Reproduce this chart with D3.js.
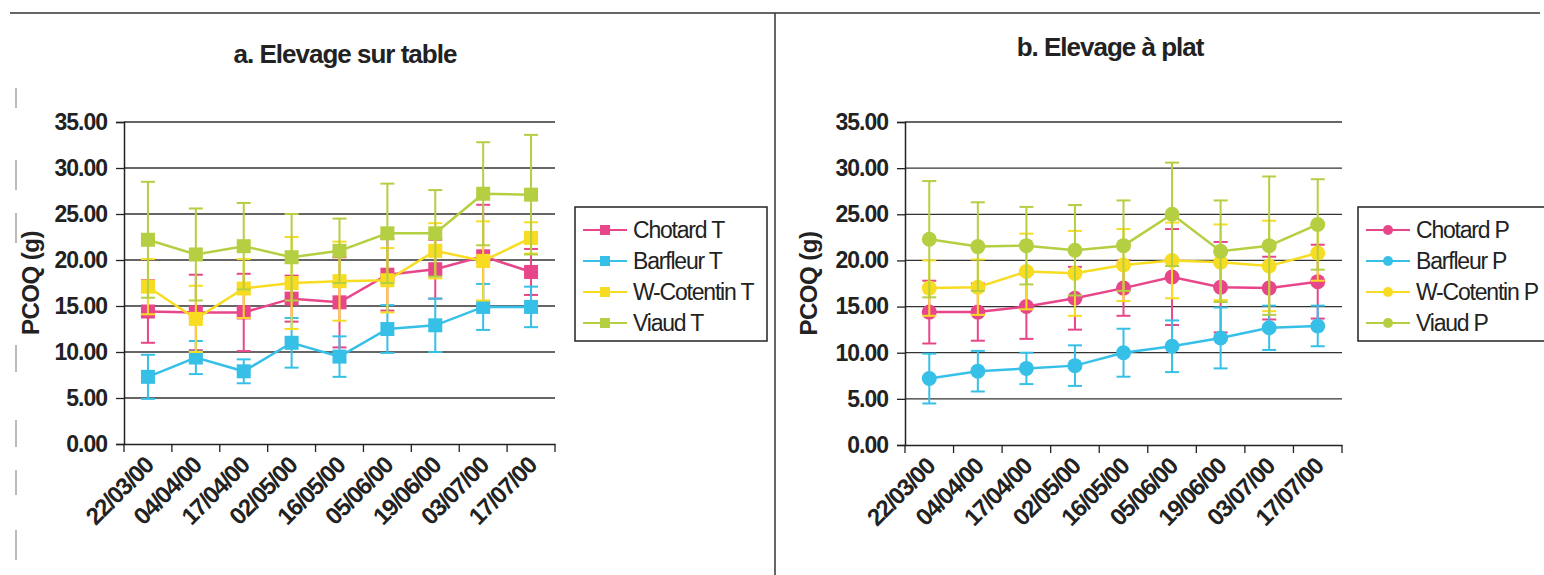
<!DOCTYPE html>
<html>
<head>
<meta charset="utf-8">
<script src="https://cdn.jsdelivr.net/npm/d3@7"></script>
<style>
  body { margin: 0; background: #fff; }
  svg { display: block; font-family: "Liberation Sans", Arial, sans-serif; }
</style>
</head>
<body>
<div id="canvas"></div>
<script>
'use strict';

var dates = ['22/03/00', '04/04/00', '17/04/00', '02/05/00', '16/05/00', '05/06/00', '19/06/00', '03/07/00', '17/07/00'];
var yTicks = [0, 5, 10, 15, 20, 25, 30, 35];

// a. Elevage sur table
var chotardT = [14.4, 14.3, 14.3, 15.8, 15.4, 18.4, 19.0, 20.4, 18.7];
var chotardTErr = [3.4, 4.1, 4.2, 2.5, 4.9, 3.9, 3.2, 5.6, 2.5];
var barfleurT = [7.3, 9.4, 7.9, 11.0, 9.5, 12.5, 12.9, 14.9, 14.9];
var barfleurTErr = [2.4, 1.8, 1.3, 2.7, 2.2, 2.6, 2.9, 2.5, 2.2];
var cotentinT = [17.1, 13.6, 16.9, 17.5, 17.7, 17.8, 21.0, 19.9, 22.4];
var cotentinTErr = [3.0, 3.6, 3.2, 5.0, 4.3, 3.5, 3.0, 4.3, 1.7];
var viaudT = [22.2, 20.6, 21.5, 20.3, 21.0, 22.9, 22.9, 27.2, 27.1];
var viaudTErr = [6.3, 5.0, 4.7, 4.7, 3.5, 5.4, 4.7, 5.6, 6.5];

// b. Elevage a plat
var chotardP = [14.4, 14.4, 15.0, 15.9, 17.0, 18.2, 17.1, 17.0, 17.7];
var chotardPErr = [3.4, 3.1, 3.5, 3.4, 3.0, 5.2, 4.9, 3.4, 4.0];
var barfleurP = [7.2, 8.0, 8.3, 8.6, 10.0, 10.7, 11.6, 12.7, 12.9];
var barfleurPErr = [2.7, 2.2, 1.7, 2.2, 2.6, 2.8, 3.3, 2.4, 2.2];
var cotentinP = [17.0, 17.1, 18.8, 18.6, 19.5, 20.0, 19.8, 19.4, 20.8];
var cotentinPErr = [3.0, 3.0, 4.1, 4.6, 3.9, 4.1, 4.1, 4.9, 3.0];
var viaudP = [22.3, 21.5, 21.6, 21.1, 21.6, 25.0, 21.0, 21.6, 23.9];
var viaudPErr = [6.3, 4.8, 4.2, 4.9, 4.9, 5.6, 5.5, 7.5, 4.9];

var colors = ['#e8468a', '#36c0e8', '#f8dc22', '#b4cf42'];

var width = 1544;
var height = 575;

var svg = d3.select('#canvas')
            .append('svg')
            .attr('width', width)
            .attr('height', height);

// page frame lines (scan)
svg.append('line').attr('x1', 10).attr('x2', 1540).attr('y1', 13).attr('y2', 13)
   .style('stroke', '#333').style('stroke-width', 1.5);
svg.append('line').attr('x1', 775).attr('x2', 775).attr('y1', 13).attr('y2', 575)
   .style('stroke', '#333').style('stroke-width', 1.5);

// faint marks at the left margin
[[88, 108], [160, 190], [213, 243], [345, 372], [420, 447], [470, 495], [530, 560]].forEach(function(r){
    svg.append('line').attr('x1', 16).attr('x2', 16).attr('y1', r[0]).attr('y2', r[1])
       .style('stroke', '#bbb').style('stroke-width', 2);
});

function drawChart(opts){
    var g = svg.append('g');

    var x = d3.scaleBand().domain(dates).range([opts.left, opts.right]);
    var y = d3.scaleLinear().domain([0, 35]).range([opts.bottom, opts.top]);

    // title
    g.append('text')
        .attr('x', opts.titleX)
        .attr('y', opts.titleY)
        .attr('text-anchor', 'middle')
        .style('font-size', '26px')
        .style('font-weight', 'bold')
        .style('letter-spacing', '-1px')
        .style('fill', '#222')
        .text(opts.title);

    // gridlines
    g.selectAll('line.grid')
        .data(yTicks.slice(1))
        .enter()
        .append('line')
        .attr('class', 'grid')
        .attr('x1', opts.left)
        .attr('x2', opts.right)
        .attr('y1', function(d){ return y(d); })
        .attr('y2', function(d){ return y(d); })
        .style('stroke', '#333')
        .style('stroke-width', 1.3);

    // y axis
    var yAxis = g.append('g')
        .attr('transform', 'translate(' + opts.left + ',0)')
        .call(d3.axisLeft(y).tickValues(yTicks).tickFormat(d3.format('.2f')).tickSize(8).tickPadding(9));
    yAxis.select('.domain').style('stroke', '#222').style('stroke-width', 1.5);
    yAxis.selectAll('line').style('stroke', '#222').style('stroke-width', 1.3);
    yAxis.selectAll('text')
        .style('font-size', '23px')
        .style('font-weight', 'bold')
        .style('letter-spacing', '-1px')
        .style('fill', '#222')
        .attr('font-family', null);

    // x axis
    var xAxis = g.append('g')
        .attr('transform', 'translate(0,' + opts.bottom + ')')
        .call(d3.axisBottom(x).tickSize(0).tickFormat(''));
    xAxis.select('.domain').style('stroke', '#222').style('stroke-width', 1.5);

    // x tick marks at band edges
    var edges = dates.map(function(d){ return x(d); }).concat([opts.right]);
    g.selectAll('line.xtick')
        .data(edges)
        .enter()
        .append('line')
        .attr('class', 'xtick')
        .attr('x1', function(d){ return d; })
        .attr('x2', function(d){ return d; })
        .attr('y1', opts.bottom)
        .attr('y2', opts.bottom + 8)
        .style('stroke', '#222')
        .style('stroke-width', 1.3);

    // x labels
    g.selectAll('text.xlab')
        .data(dates)
        .enter()
        .append('text')
        .attr('class', 'xlab')
        .attr('text-anchor', 'end')
        .attr('transform', function(d){
            return 'translate(' + (x(d) + x.bandwidth() / 2 + 7) + ',' + (opts.bottom + 23) + ') rotate(-45)';
        })
        .style('font-size', '24px')
        .style('font-weight', 'bold')
        .style('letter-spacing', '-1.2px')
        .style('fill', '#222')
        .text(function(d){ return d; });

    // y label
    g.append('text')
        .attr('transform', 'translate(' + opts.yLabelX + ',' + ((opts.top + opts.bottom) / 2) + ') rotate(-90)')
        .attr('text-anchor', 'middle')
        .style('font-size', '24px')
        .style('font-weight', 'bold')
        .style('letter-spacing', '-0.5px')
        .style('fill', '#222')
        .text('PCOQ (g)');

    var cx = function(i){ return x(dates[i]) + x.bandwidth() / 2; };
    var line = d3.line()
        .x(function(d, i){ return cx(i); })
        .y(function(d){ return y(d); });

    opts.series.forEach(function(s, k){
        var color = colors[k];
        var sg = g.append('g');

        // error bars
        s.values.forEach(function(v, i){
            var e = s.err[i];
            sg.append('line')
                .attr('x1', cx(i)).attr('x2', cx(i))
                .attr('y1', y(v - e)).attr('y2', y(v + e))
                .style('stroke', color).style('stroke-width', 2);
            [v - e, v + e].forEach(function(c){
                sg.append('line')
                    .attr('x1', cx(i) - 7).attr('x2', cx(i) + 7)
                    .attr('y1', y(c)).attr('y2', y(c))
                    .style('stroke', color).style('stroke-width', 2);
            });
        });

        sg.append('path')
            .datum(s.values)
            .attr('d', line)
            .attr('fill', 'none')
            .style('stroke', color)
            .style('stroke-width', 2.5);

        if(opts.marker === 'square'){
            sg.selectAll('rect.pt')
                .data(s.values)
                .enter()
                .append('rect')
                .attr('class', 'pt')
                .attr('x', function(d, i){ return cx(i) - 7; })
                .attr('y', function(d){ return y(d) - 7; })
                .attr('width', 14)
                .attr('height', 14)
                .style('fill', color);
        }else{
            sg.selectAll('circle.pt')
                .data(s.values)
                .enter()
                .append('circle')
                .attr('class', 'pt')
                .attr('cx', function(d, i){ return cx(i); })
                .attr('cy', function(d){ return y(d); })
                .attr('r', 7.5)
                .style('fill', color);
        }
    });

    // legend
    var lg = g.append('g');
    lg.append('rect')
        .attr('x', opts.legendX)
        .attr('y', 207)
        .attr('width', opts.legendW)
        .attr('height', 134)
        .style('fill', '#fff')
        .style('stroke', '#222')
        .style('stroke-width', 1.5);

    opts.series.forEach(function(s, k){
        var ly = 230 + k * 31;
        var lx = opts.legendX + 8;
        lg.append('line')
            .attr('x1', lx).attr('x2', lx + 44)
            .attr('y1', ly).attr('y2', ly)
            .style('stroke', colors[k]).style('stroke-width', 2);
        if(opts.marker === 'square'){
            lg.append('rect')
                .attr('x', lx + 22 - 5).attr('y', ly - 5)
                .attr('width', 10).attr('height', 10)
                .style('fill', colors[k]);
        }else{
            lg.append('circle')
                .attr('cx', lx + 22).attr('cy', ly).attr('r', 5)
                .style('fill', colors[k]);
        }
        lg.append('text')
            .attr('x', lx + 50)
            .attr('y', ly + 8)
            .style('font-size', '23px')
            .style('letter-spacing', '-1.2px')
            .style('fill', '#222')
            .text(s.name);
    });
}

drawChart({
    title: 'a. Elevage sur table',
    titleX: 345, titleY: 63,
    left: 124, right: 555, top: 122, bottom: 444,
    yLabelX: 39,
    legendX: 575, legendW: 192,
    marker: 'square',
    series: [
        { name: 'Chotard T', values: chotardT, err: chotardTErr },
        { name: 'Barfleur T', values: barfleurT, err: barfleurTErr },
        { name: 'W-Cotentin T', values: cotentinT, err: cotentinTErr },
        { name: 'Viaud T', values: viaudT, err: viaudTErr }
    ]
});

drawChart({
    title: 'b. Elevage à plat',
    titleX: 1110, titleY: 56,
    left: 905, right: 1342, top: 122, bottom: 445,
    yLabelX: 817,
    legendX: 1358, legendW: 200,
    marker: 'circle',
    series: [
        { name: 'Chotard P', values: chotardP, err: chotardPErr },
        { name: 'Barfleur P', values: barfleurP, err: barfleurPErr },
        { name: 'W-Cotentin P', values: cotentinP, err: cotentinPErr },
        { name: 'Viaud P', values: viaudP, err: viaudPErr }
    ]
});
</script>
</body>
</html>
